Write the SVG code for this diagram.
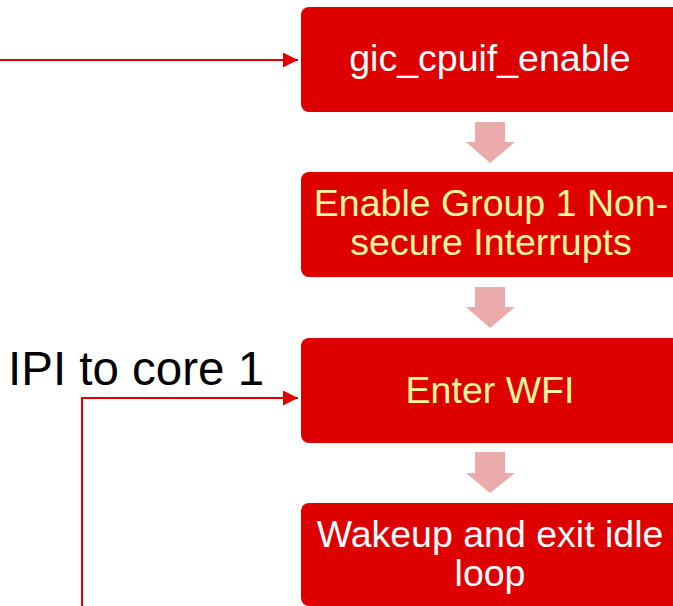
<svg xmlns="http://www.w3.org/2000/svg" width="673" height="606" viewBox="0 0 673 606">
<defs>
<style>
.box{fill:#DE0000;}
.t{font-family:"Liberation Sans",Arial,sans-serif;font-size:37.5px;text-anchor:middle;}
.w{fill:#FFFFFF;}
.y{fill:#FFF799;}
.blk{fill:#ECABAB;}
.conn{fill:none;stroke:#E00000;stroke-width:2;}
</style>
<marker id="ah" markerWidth="15" markerHeight="15" refX="15" refY="7.5" orient="auto" markerUnits="userSpaceOnUse">
<path d="M0,0 L15,7.5 L0,15 Z" fill="#E00000"/>
</marker>
</defs>
<rect width="673" height="606" fill="#FFFFFF"/>
<g id="connectors">
<path class="conn" d="M0,60 H298" marker-end="url(#ah)"/>
<path class="conn" d="M82,606 V398 H298" marker-end="url(#ah)"/>
<path class="blk" d="M475,122 H505 V142 H515 L490,163 L466,142 H475 Z"/>
<path class="blk" d="M475,287 H505 V307 H515 L490,328 L466,307 H475 Z"/>
<path class="blk" d="M475,452 H505 V473 H515 L490,493 L466,473 H475 Z"/>
</g>
<g id="ipi-label">
<text x="8" y="385" style="font-family:'Liberation Sans',Arial,sans-serif;font-size:47.5px;fill:#000000">IPI to core 1</text>
</g>
<g id="node-gic">
<rect class="box" x="301" y="7" width="380" height="105" rx="8"/>
<text class="t w" x="490" y="71">gic_cpuif_enable</text>
</g>
<g id="node-enable">
<rect class="box" x="301" y="172" width="380" height="105" rx="8"/>
<text class="t y" x="491" y="216">Enable Group 1 Non-</text>
<text class="t y" x="491" y="255">secure Interrupts</text>
</g>
<g id="node-wfi">
<rect class="box" x="301" y="338" width="380" height="105" rx="8"/>
<text class="t y" x="490" y="403">Enter WFI</text>
</g>
<g id="node-wakeup">
<rect class="box" x="301" y="503" width="380" height="103" rx="8"/>
<text class="t w" x="490" y="547">Wakeup and exit idle</text>
<text class="t w" x="490" y="586">loop</text>
</g>
</svg>
